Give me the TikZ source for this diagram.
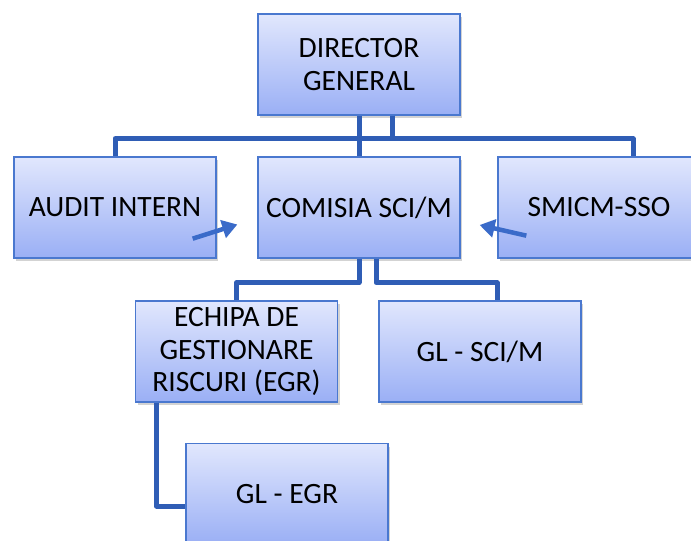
\documentclass[tikz,border=0pt]{standalone}
\usepackage{fontspec}
\setmainfont{Carlito}
\usetikzlibrary{arrows.meta,shadows}

\definecolor{boxline}{HTML}{4A78CF}
\definecolor{boxtop}{HTML}{E1E7FD}
\definecolor{boxbot}{HTML}{9AAFF5}
\definecolor{linkblue}{HTML}{2F5DB5}
\definecolor{arrowblue}{HTML}{3A6BC9}

\tikzset{
  unit/.style={draw=boxline, line width=1.3pt, top color=boxtop, bottom color=boxbot,
    minimum width=202pt, minimum height=101pt, inner sep=0pt, align=center,
    font=\fontsize{29.5}{32.5}\selectfont,
    drop shadow={opacity=0.35, shadow xshift=2pt, shadow yshift=-3pt}},
  link/.style={draw=linkblue, line width=5pt, line join=round},
  flow/.style={draw=arrowblue, line width=4.5pt, -{Triangle[length=15pt,width=18pt]}}
}

\begin{document}
\begin{tikzpicture}[x=1pt,y=-1pt]
\useasboundingbox (0,0) rectangle (691,541);

\node[unit] (dir) at (359,64.5) {DIRECTOR\\GENERAL};
\node[unit] (aud) at (115,207.5) {AUDIT INTERN};
\node[unit] (com) at (359,207.5) {COMISIA SCI/M};
\node[unit] (smi) at (599,207.5) {SMICM-SSO};
\node[unit] (egr) at (236.5,351.5) {ECHIPA DE\\GESTIONARE\\RISCURI (EGR)};
\node[unit] (gls) at (480,351.5) {GL - SCI/M};
\node[unit] (gle) at (287,494) {GL - EGR};

% hierarchy links
\draw[link] (dir.south) -- (com.north);
\draw[link] ([xshift=33pt]dir.south) -- ++(0,23) -| (aud.north);
\draw[link] ([xshift=33pt]dir.south) -- ++(0,23) -| ([xshift=34pt]smi.north);

\draw[link] (com.south) -- ++(0,24) -| (egr.north);
\draw[link] ([xshift=17pt]com.south) -- ++(0,24) -| ([xshift=17pt]gls.north);

\draw[link] ([xshift=-80pt]egr.south) |- ([yshift=-12pt]gle.west);

% reporting arrows
\draw[flow] ([shift={(-24,-20)}]aud.south east) -- ([shift={(-20,17)}]com.west);
\draw[flow] ([shift={(29,-23)}]smi.south west) -- ([shift={(19,17.5)}]com.east);
\end{tikzpicture}
\end{document}
